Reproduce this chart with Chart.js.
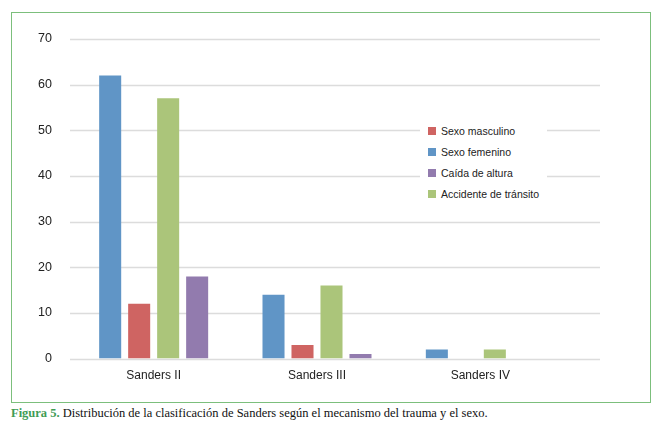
<!DOCTYPE html>
<html>
<head>
<meta charset="utf-8">
<script src="https://cdn.jsdelivr.net/npm/chart.js@4.4.1/dist/chart.umd.min.js"></script>
<style>
  body { margin: 0; background: #fff; }
  #frame { position: absolute; left: 11px; top: 12px; width: 638px; height: 389px; border: 1.5px solid #7cbf7c; }
  #wrap { position: absolute; left: 0; top: 0; width: 661px; height: 400px; }
  #legend { position: absolute; left: 420px; top: 120px; background: #fff; padding: 0 8px; font: 10.5px "Liberation Sans", Arial, sans-serif; color: #222; }
  #legend div { height: 21px; display: flex; align-items: center; }
  #legend span { display: inline-block; width: 8px; height: 8px; margin-right: 5px; }
  #caption { position: absolute; left: 11px; top: 406px; font: 12.5px "Liberation Serif", "DejaVu Serif", serif; color: #111; }
  #caption b { color: #3f9c55; }
</style>
</head>
<body>
<div id="frame"></div>
<div id="wrap"><canvas id="canvas" width="661" height="400"></canvas></div>
<div id="legend"></div>
<div id="caption"><b>Figura 5.</b> Distribución de la clasificación de Sanders según el mecanismo del trauma y el sexo.</div>
<script>
const categories = ["Sanders II", "Sanders III", "Sanders IV"];
const femenino = [62, 14, 2];
const masculino = [12, 3, 0];
const accidente = [57, 16, 2];
const caida = [18, 1, 0];
const yTicks = [0, 10, 20, 30, 40, 50, 60, 70];

const datasets = [
    { label: "Sexo femenino", data: femenino, backgroundColor: "#6095c6", legendOrder: 1 },
    { label: "Sexo masculino", data: masculino, backgroundColor: "#cf6462", legendOrder: 0 },
    { label: "Accidente de tránsito", data: accidente, backgroundColor: "#abc57a", legendOrder: 3 },
    { label: "Caída de altura", data: caida, backgroundColor: "#927bae", legendOrder: 2 }
];

// gridlines run past the last category, so draw them by hand
const gridPlugin = {
    id: "grid",
    beforeDatasetsDraw(chart) {
        const { ctx, chartArea, scales } = chart;
        ctx.save();
        ctx.strokeStyle = "#dcdcdc";
        ctx.lineWidth = 1.5;
        yTicks.forEach((t) => {
            const y = Math.round(scales.y.getPixelForValue(t)) + 0.5;
            ctx.beginPath();
            ctx.moveTo(chartArea.left - 2, y);
            ctx.lineTo(600, y);
            ctx.stroke();
        });
        ctx.restore();
    }
};

new Chart(document.getElementById("canvas"), {
    type: "bar",
    data: { labels: categories, datasets },
    options: {
        responsive: false,
        animation: false,
        layout: { padding: { left: 0, right: 99, top: 39, bottom: 15 } },
        datasets: { bar: { categoryPercentage: 0.71, barPercentage: 0.76 } },
        plugins: { legend: { display: false }, tooltip: { enabled: false } },
        scales: {
            x: {
                grid: { display: false },
                border: { display: false },
                ticks: { color: "#222", font: { family: "Liberation Sans", size: 12 }, padding: 2 }
            },
            y: {
                min: 0, max: 70,
                afterFit(s) { s.width = 72; },
                grid: { display: false },
                border: { display: false },
                ticks: { stepSize: 10, color: "#222", font: { family: "Liberation Sans", size: 12.5 }, padding: 12 }
            }
        }
    },
    plugins: [gridPlugin]
});

const legend = document.getElementById("legend");
[...datasets].sort((a, b) => a.legendOrder - b.legendOrder).forEach((d) => {
    const row = document.createElement("div");
    row.innerHTML = `<span style="background:${d.backgroundColor}"></span>${d.label}`;
    legend.appendChild(row);
});
</script>
</body>
</html>
